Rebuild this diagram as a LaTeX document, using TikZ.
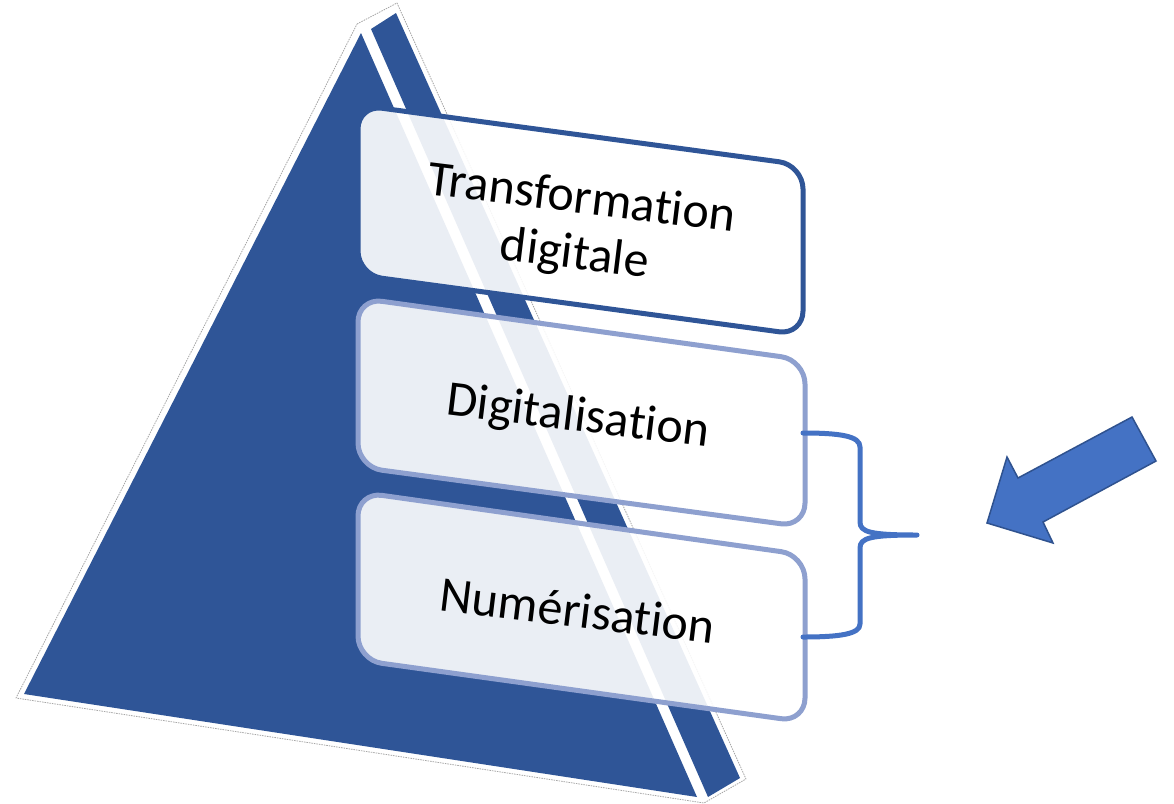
\documentclass[tikz,border=0pt]{standalone}
\usepackage{fontspec}
\setmainfont{Carlito}[Ligatures={NoCommon,NoRare,NoContextual}]
\definecolor{pyr}{HTML}{2F5597}
\definecolor{lightb}{HTML}{8EA0CF}
\definecolor{accent}{HTML}{4472C4}
\definecolor{accentdark}{HTML}{2F528F}
\tikzset{
  face/.style={fill=pyr, draw=none},
  boxshape/.style={fill=white, fill opacity=0.9, line width=5pt, rounded corners=24pt, line join=round},
  label/.style={font=\fontsize{50}{56}\selectfont, text=black, rotate=-7, align=center, inner sep=0pt},
  bracestyle/.style={draw=accent, line width=5pt, line cap=round, line join=round},
  blockarrow/.style={fill=accent, draw=accentdark, line width=1.5pt, line join=miter}
}
\begin{document}
\begin{tikzpicture}[x=1pt,y=-1pt]
\useasboundingbox (0,0) rectangle (1174,803);
% pyramid outline (white band with thin grey edge)
\draw[fill=white, draw=gray!70, line width=0.8pt, dash pattern=on 1.5pt off 1pt, line join=round]
  (357,24) -- (397,3) -- (746,779) -- (704,803) -- (16,698) -- cycle;
% faces
\path[face] (361,33) -- (24,694) -- (697,797) -- cycle;
\path[face] (371,29) -- (396,13) -- (740,778) -- (708,797) -- cycle;
% boxes
\path[boxshape, draw=pyr] (358,105) -- (803,165) -- (803,335) -- (358,275) -- cycle;
\path[boxshape, draw=lightb] (358,298) -- (805,360) -- (805,527) -- (358,467) -- cycle;
\path[boxshape, draw=lightb] (358,492) -- (805,555) -- (805,722) -- (358,660) -- cycle;
% labels
\node[label] (t1) at (578,228) {Transformation\\digitale};
\node[label] (t2) at (578,418) {Digitalisation};
\node[label] (t3) at (578,610) {Numérisation};
% brace
\coordinate (btop) at (803,433);
\coordinate (btip) at (917,535);
\coordinate (bbot) at (803,637);
\draw[bracestyle] (btop) .. controls (840,433) and (860,436) .. (860,447)
  -- (860,522) .. controls (860,532) and (870,535) .. (btip)
  (btip) .. controls (870,535) and (860,538) .. (860,548)
  -- (860,624) .. controls (860,634) and (840,637) .. (bbot);
% block arrow
\path[blockarrow] (1132,417) -- (1156,461) -- (1043,522) -- (1053,543) -- (987,523) -- (1007,457) -- (1018,478) -- cycle;
\end{tikzpicture}
\end{document}
